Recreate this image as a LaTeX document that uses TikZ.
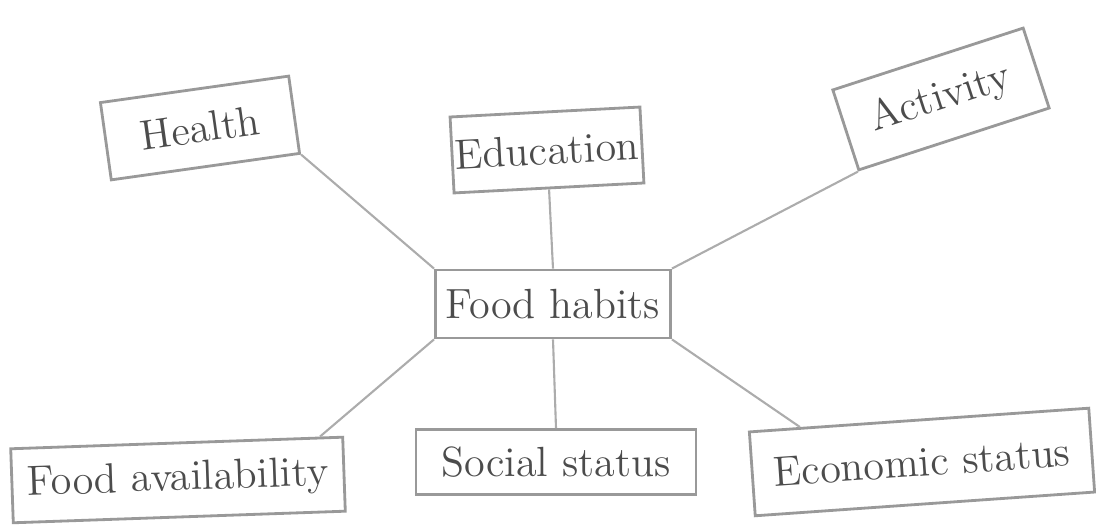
\documentclass[tikz,border=0pt]{standalone}
\usepackage{tikz}

\begin{document}
\begin{tikzpicture}[x=0.01cm, y=-0.01cm, thick, draw=gray!75, font=\large, text=black!70,
  main/.style = {draw=gray!80, rectangle, inner sep=0pt, align=center},
  link/.style = {draw=gray!65, semithick}]
\useasboundingbox (0,0) rectangle (1096,525);
\node[main, minimum width=2.35cm, minimum height=0.68cm] (hub) at (553,304) {Food habits};
\node[main, minimum width=1.9cm, minimum height=0.78cm, rotate=8] (health) at (200,128) {Health};
\node[main, minimum width=1.9cm, minimum height=0.76cm, rotate=3] (edu) at (547,150) {Education};
\node[main, minimum width=2.0cm, minimum height=0.84cm, rotate=18] (act) at (941,99) {Activity};
\node[main, minimum width=3.32cm, minimum height=0.74cm, rotate=2] (avail) at (178,480) {Food availability};
\node[main, minimum width=2.8cm, minimum height=0.65cm] (social) at (556,462) {Social status};
\node[main, minimum width=3.4cm, minimum height=0.84cm, rotate=4] (eco) at (922,462) {Economic status};
\draw[link] (health.south east) -- (hub.north west);
\draw[link] (edu.south) -- (hub.north);
\draw[link] (act.south west) -- (hub.north east);
\draw[link] (hub.south west) -- (avail.15);
\draw[link] (hub.south) -- (social.north);
\draw[link] (hub.south east) -- (eco.160);
\end{tikzpicture}
\end{document}
